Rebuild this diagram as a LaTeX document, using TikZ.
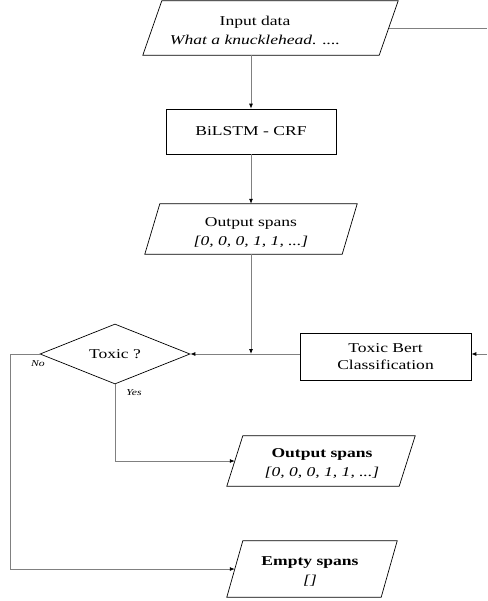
\documentclass[tikz,border=0pt]{standalone}
\usepackage{fontspec}
\setmainfont[FakeStretch=1.3]{Liberation Serif}
\usetikzlibrary{shapes.geometric,arrows.meta}
\newcommand{\mypara}[2]{\draw[shp] ([xshift=#2]#1.north west) -- (#1.north east) -- ([xshift=-#2]#1.south east) -- (#1.south west) -- cycle;}
\begin{document}
\begin{tikzpicture}[x=1pt,y=-1pt,
  shp/.style={draw=black,line width=0.7pt},
  boxn/.style={shp,rectangle,inner sep=0pt,align=center,font=\fontsize{13.5}{17}\selectfont},
  ghost/.style={rectangle,inner sep=0pt},
  txt/.style={align=center,inner sep=0pt,font=\fontsize{13.5}{19}\selectfont},
  conn/.style={draw=black!50,line width=0.8pt},
  arr/.style={conn,-{Latex[length=5pt,width=4pt,color=black]}},
  lbl/.style={font=\fontsize{9}{10}\selectfont\itshape,inner sep=0pt}
]
\useasboundingbox (0,0) rectangle (487,601);
% shapes
\node[ghost,minimum width=255pt,minimum height=54pt] (in) at (270.5,28) {};
\mypara{in}{19pt}
\node[txt] (intxt) at (255,30.5) {Input data\\\textit{What a knucklehead. ....}};

\node[boxn,minimum width=170pt,minimum height=45pt] (bil) at (251,131.5) {BiLSTM - CRF};

\node[ghost,minimum width=212pt,minimum height=50pt] (out1) at (251,229) {};
\mypara{out1}{15pt}
\node[txt] (out1txt) at (251,232.5) {Output spans\\\textit{[0, 0, 0, 1, 1, ...]}};

\node[shp,diamond,aspect=2.5,inner sep=0pt,minimum width=150pt,minimum height=60pt,font=\fontsize{13.5}{17}\selectfont] (dia) at (115,354) {Toxic ?};

\node[boxn,minimum width=171pt,minimum height=47pt] (tb) at (385.5,356.5) {Toxic Bert\\Classification};

\node[ghost,minimum width=188pt,minimum height=50pt] (out2) at (321,461) {};
\mypara{out2}{16pt}
\node[txt] (out2txt) at (322,464) {\textbf{Output spans}\\\textit{[0, 0, 0, 1, 1, ...]}};

\node[ghost,minimum width=170pt,minimum height=56pt] (emp) at (312,569) {};
\mypara{emp}{16pt}
\node[txt] (emptxt) at (310,571) {\textbf{Empty spans}\\\textit{[]}};

% connectors
\coordinate (rt1) at (487,28);
\coordinate (rt2) at (487,354);
\coordinate (nol) at (10,354);
\draw[arr] (bil.north |- in.south) -- (bil.north);
\draw[conn] ([xshift=-9.5pt]in.east) -- (rt1);
\draw[arr] (bil.south) -- (out1.north);
\draw[arr] (out1.south) -- (out1.south |- dia.east);
\draw[arr] (tb.west |- dia.east) -- (dia.east);
\draw[arr] (rt2) -- (tb.east |- rt2);
\draw[arr] (dia.west) -- (nol) -- (nol |- emp.west) -- ([xshift=8pt]emp.west);
\draw[arr] (dia.south) -- (dia.south |- out2.west) -- ([xshift=8pt]out2.west);

\node[lbl] (nolbl) at (38,364) {No};
\node[lbl] (yeslbl) at (134,393) {Yes};
\end{tikzpicture}
\end{document}
